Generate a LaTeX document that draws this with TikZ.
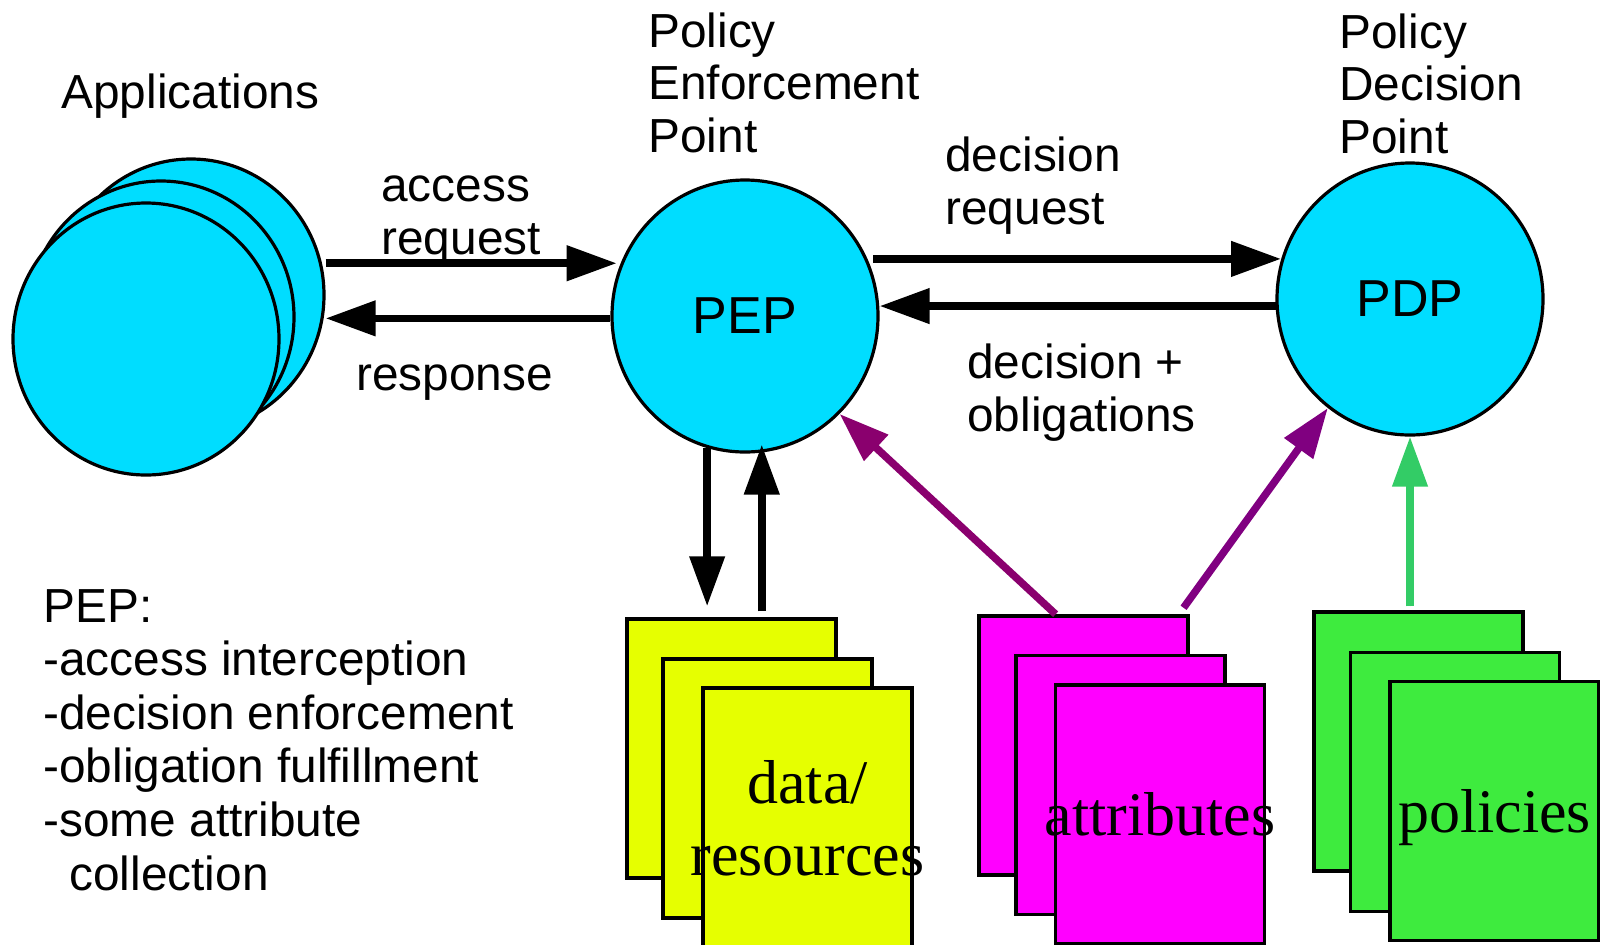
\documentclass[tikz,border=0pt]{standalone}
\usepackage{fontspec}
\setmainfont{Liberation Serif}
\setsansfont{Liberation Sans}
\usetikzlibrary{arrows.meta,shapes.geometric}

\definecolor{bubble}{HTML}{00DDFF}
\definecolor{datafill}{HTML}{E6FF00}
\definecolor{attrfill}{HTML}{FF00FF}
\definecolor{polfill}{HTML}{3EEB3E}
\definecolor{attrarrowA}{HTML}{8A006E}
\definecolor{attrarrowB}{HTML}{800080}
\definecolor{polarrow}{HTML}{33CC66}

\begin{document}
\begin{tikzpicture}[x=0.5pt,y=-0.5pt,
  disc/.style={ellipse, draw=black, line width=1.6pt, fill=bubble,
    minimum width=133pt, minimum height=136pt, inner sep=0pt,
    font=\sffamily\fontsize{26pt}{30pt}\selectfont},
  sheet/.style={rectangle, draw=black, line width=1.75pt,
    minimum width=104.5pt, minimum height=129.5pt, inner sep=0pt},
  lbl/.style={inner sep=0pt, anchor=base west, align=left,
    font=\sffamily\fontsize{23.9pt}{26.2pt}\selectfont},
  sheetlbl/.style={inner sep=0pt, anchor=base, align=center,
    font=\rmfamily\fontsize{31pt}{36pt}\selectfont},
  flow/.style={line width=3.75pt, -{Triangle[length=25pt,width=17pt]}},
]
\useasboundingbox (0,0) rectangle (1600,944);

% applications: a stack of three discs
\node[disc] (app1) at (191,295) {};
\node[disc] (app2) at (161,317) {};
\node[disc] (app3) at (146,339) {};

% enforcement and decision points
\node[disc] (pep) at (745,316) {PEP};
\node[disc] (pdp) at (1410,299) {PDP};

% stacked sheets
\node[sheet, fill=datafill] (data1) at (731.5,748.5) {};
\node[sheet, fill=datafill] (data2) at (767.5,788.5) {};
\node[sheet, fill=datafill] (data3) at (807.5,817.5) {};

\node[sheet, fill=attrfill] (attr1) at (1083.5,745.5) {};
\node[sheet, fill=attrfill] (attr2) at (1120.5,785) {};
\node[sheet, fill=attrfill] (attr3) at (1160,814.5) {};

\node[sheet, fill=polfill] (pol1) at (1418.5,741.5) {};
\node[sheet, fill=polfill] (pol2) at (1455,782) {};
\node[sheet, fill=polfill] (pol3) at (1494.5,811) {};

% multi-line labels are placed by the baseline of their last line
\node[sheetlbl] (dataT) at (807.5,875) {data/\\resources};
\node[sheetlbl] (attrT) at (1160,835) {attributes};
\node[sheetlbl] (polT) at (1494.5,832) {policies};

% titles and flow labels
\node[lbl] (appsT) at (61,108) {Applications};
\node[lbl] (pepT) at (648,152) {Policy\\Enforcement\\Point};
\node[lbl] (pdpT) at (1339,153) {Policy\\Decision\\Point};
\node[lbl] (accT) at (381,254) {access\\request};
\node[lbl] (respT) at (356,390) {response};
\node[lbl] (dreqT) at (945,224) {decision\\request};
\node[lbl] (doblT) at (967,431) {decision +\\obligations};
\node[lbl, font=\sffamily\fontsize{23.9pt}{26.8pt}\selectfont] (roles) at (43,890)
  {PEP:\\-access interception\\-decision enforcement\\-obligation fulfillment\\-some attribute\\\hspace*{13pt}collection};

% request / response flows
\draw[flow] (app1.east |- pep.157) -- ([xshift=-2pt]pep.157);
\draw[flow] (pep.181) -- (app1.east |- pep.181);
\draw[flow, shorten <=3pt] (pep.25) -- (pdp.163 |- pep.25);
\draw[flow] (pdp.183) -- (pep.east |- pdp.183);

% data access
\draw[flow, shorten >=5.5pt] (pep.254) -- (pep.254 |- data1.north);
\draw[flow, shorten <=3pt, shorten >=-4pt] (data1.north -| pep.277) -- (pep.277);

% attribute and policy supply
\draw[flow, draw=attrarrowA, fill=attrarrowA] (attr1.102) -- (pep.314);
\draw[flow, draw=attrarrowB, fill=attrarrowB, shorten <=4pt] (attr1.54) -- (pdp.233);
\draw[flow, draw=polarrow, fill=polarrow, shorten <=2pt] (pol1.north -| pdp.south) -- (pdp.south);
\end{tikzpicture}
\end{document}
